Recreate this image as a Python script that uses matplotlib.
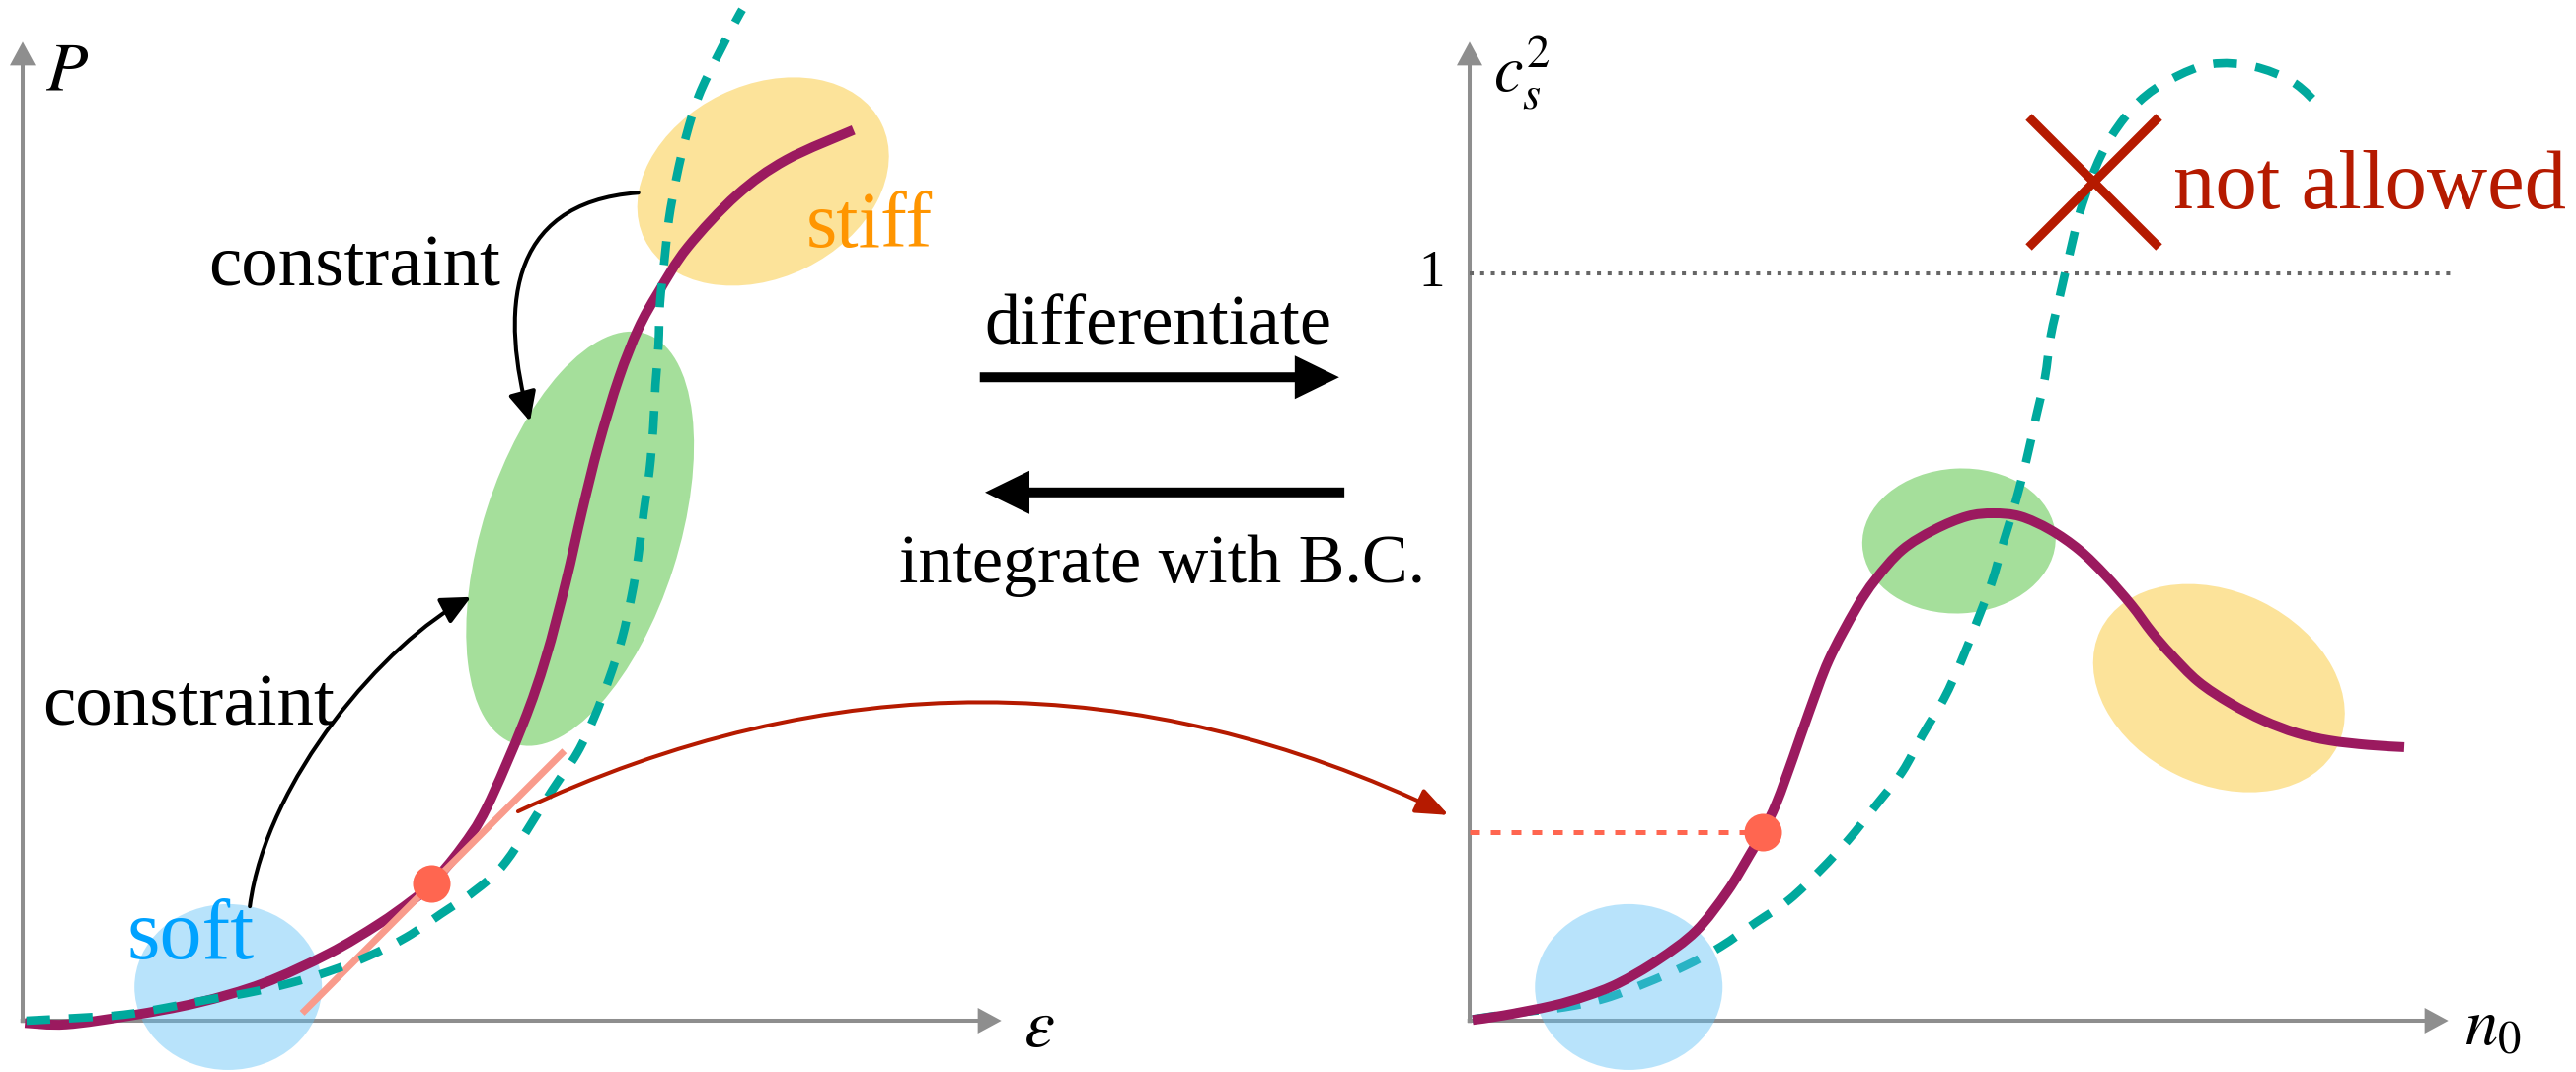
import matplotlib
matplotlib.use("Agg")
import numpy as np
import matplotlib.pyplot as plt
from matplotlib.patches import Ellipse, FancyArrowPatch, ConnectionPatch, PathPatch
from matplotlib.path import Path

plt.rcParams['font.family'] = ['Liberation Serif', 'DejaVu Serif']
plt.rcParams['mathtext.fontset'] = 'stix'

# ---------------- data (arbitrary units, c_s^2 = 1 on the right) ----------------
# left panel: equation of state P(eps)
eos_eps = [0.003, 0.058, 0.145, 0.234, 0.322, 0.410, 0.476, 0.520, 0.547, 0.587,
           0.621, 0.670, 0.700, 0.727, 0.749, 0.771, 0.798, 0.824, 0.851,
           0.890, 0.956, 1.022, 1.112]
eos_P = [-0.003, -0.005, 0.007, 0.024, 0.050, 0.090, 0.129, 0.160, 0.183, 0.231,
         0.285, 0.398, 0.485, 0.587, 0.683, 0.771, 0.860, 0.926, 0.975,
         1.035, 1.105, 1.152, 1.192]

alt_eps = [0.005, 0.078, 0.135, 0.190, 0.247, 0.300, 0.357, 0.410, 0.462, 0.514,
           0.560, 0.604, 0.647, 0.709, 0.742, 0.765, 0.785, 0.802, 0.815, 0.824,
           0.831, 0.839, 0.844, 0.847, 0.851, 0.853, 0.859, 0.865, 0.875, 0.888,
           0.905, 0.929, 0.954, 0.963]
alt_P = [0.000, 0.004, 0.008, 0.017, 0.028, 0.037, 0.050, 0.066, 0.086, 0.112,
         0.143, 0.173, 0.213, 0.309, 0.358, 0.406, 0.458, 0.511, 0.569, 0.622,
         0.679, 0.736, 0.794, 0.851, 0.904, 0.960, 1.018, 1.073, 1.128, 1.184,
         1.238, 1.289, 1.337, 1.353]

# matching point and its tangent
match_eps, match_P = 0.547, 0.183
tangent_eps = [0.374, 0.725]
tangent_P = [0.010, 0.361]

# right panel: sound speed squared c_s^2(n0)
eos_n = [0.004, 0.045, 0.111, 0.156, 0.199, 0.252, 0.303, 0.345, 0.375, 0.392,
         0.411, 0.433, 0.454, 0.481, 0.517, 0.543, 0.579, 0.622, 0.666, 0.701,
         0.737, 0.777, 0.816, 0.851, 0.886, 0.913, 0.939, 0.975, 1.018, 1.062,
         1.107, 1.151, 1.203, 1.251]
eos_cs2 = [0.001, 0.007, 0.020, 0.033, 0.050, 0.081, 0.120, 0.173, 0.222, 0.252,
           0.292, 0.352, 0.412, 0.483, 0.551, 0.590, 0.630, 0.657, 0.675, 0.679,
           0.675, 0.657, 0.630, 0.596, 0.556, 0.520, 0.490, 0.454, 0.425, 0.402,
           0.385, 0.375, 0.369, 0.366]

alt_n = [0.004, 0.067, 0.127, 0.182, 0.235, 0.288, 0.336, 0.384, 0.428, 0.470,
         0.507, 0.543, 0.579, 0.606, 0.635, 0.658, 0.679, 0.699, 0.715, 0.731,
         0.745, 0.758, 0.770, 0.778, 0.790, 0.803, 0.816, 0.836, 0.860, 0.896,
         0.939, 0.992, 1.049, 1.102, 1.141]
alt_cs2 = [0.002, 0.011, 0.018, 0.030, 0.050, 0.073, 0.099, 0.132, 0.162, 0.202,
           0.242, 0.287, 0.333, 0.382, 0.431, 0.481, 0.534, 0.587, 0.642, 0.695,
           0.749, 0.807, 0.860, 0.917, 0.970, 1.026, 1.079, 1.137, 1.185, 1.230,
           1.260, 1.280, 1.277, 1.256, 1.221]

match_n, match_cs2 = 0.392, 0.252
causal_limit = 1.0
violation_n, violation_cs2 = 0.835, 1.123

# regions: (centre x, centre y, width, height, angle)
soft_L = (0.275, 0.045, 0.251, 0.222, 0)
mid_L = (0.746, 0.645, 0.262, 0.576, -17.7)
stiff_L = (0.991, 1.123, 0.353, 0.258, 26)
soft_R = (0.213, 0.045, 0.251, 0.222, 0)
mid_R = (0.655, 0.642, 0.259, 0.194, 3)
stiff_R = (1.003, 0.445, 0.353, 0.258, -26)

# ---------------- style ----------------
PURPLE = '#9b1a5f'
TEAL = '#00a99d'
DOT = '#ff6650'
SALMON = '#f99b8c'
DARKRED = '#b51a00'
GREY = '#8e8e8e'
BLUE_FILL = (95 / 255, 193 / 255, 246 / 255, 0.44)
GREEN_FILL = '#a5df9b'
YELLOW_FILL = '#fce39a'

W, H = 2610, 1086
UNIT = 757.0
fig = plt.figure(figsize=(W / 100, H / 100), dpi=100)


def panel(x0, y0):
    ax = fig.add_axes([0, 0, 1, 1])
    ax.set_xlim(-x0 / UNIT, (W - x0) / UNIT)
    ax.set_ylim(-y0 / UNIT, (H - y0) / UNIT)
    ax.axis('off')
    ax.patch.set_alpha(0)
    return ax


def smooth_curve(ax, xs, ys, **kw):
    """Draw a smooth (Catmull-Rom style Bezier) stroke through the given points."""
    p = np.column_stack([xs, ys])
    ext = np.vstack([p[0], p, p[-1]])
    verts = [tuple(p[0])]
    codes = [Path.MOVETO]
    for i in range(len(p) - 1):
        a, b, c, d = ext[i], ext[i + 1], ext[i + 2], ext[i + 3]
        verts += [tuple(b + (c - a) / 6), tuple(c - (d - b) / 6), tuple(c)]
        codes += [Path.CURVE4] * 3
    patch = PathPatch(Path(verts, codes), fill=False, **kw)
    ax.add_patch(patch)
    return patch


axL = panel(23, 52)
axR = panel(1489, 52)

AX_END = 1.31
axis_style = 'simple,head_length=1.73,head_width=1.87,tail_width=0.29'
for ax in (axL, axR):
    for a, b in [((-0.003, 0), (AX_END, 0)), ((0, -0.003), (0, AX_END))]:
        ax.add_patch(FancyArrowPatch(a, b, arrowstyle=axis_style, mutation_scale=10,
                                     color=GREY, lw=0, shrinkA=0, shrinkB=0, zorder=1))


def region(ax, spec, color, z):
    x, y, w, h, ang = spec
    ax.add_patch(Ellipse((x, y), w, h, angle=ang, facecolor=color, edgecolor='none', zorder=z))


solid = dict(edgecolor=PURPLE, lw=7.2, joinstyle='round', capstyle='butt')
dashed = dict(edgecolor=TEAL, lw=6.2, linestyle=(0, (2.8, 2.2)), capstyle='butt')

# ----- left panel -----
region(axL, soft_L, BLUE_FILL, 2)
region(axL, mid_L, GREEN_FILL, 2)
region(axL, stiff_L, YELLOW_FILL, 2)
smooth_curve(axL, eos_eps, eos_P, zorder=3, **solid)
axL.plot(tangent_eps, tangent_P, color=SALMON, lw=5, solid_capstyle='butt', zorder=3.5)
smooth_curve(axL, alt_eps, alt_P, zorder=4, **dashed)
axL.plot([match_eps], [match_P], 'o', ms=27.4, color=DOT, mec='none', zorder=6)

axL.text(0.030, 1.247, r'$P$', fontsize=50, va='baseline', ha='left')
axL.text(1.339, -0.034, r'$\varepsilon$', fontsize=50, va='baseline', ha='left')
axL.text(0.639, 0.983, 'constraint', fontsize=54, va='baseline', ha='right')
axL.text(0.026, 0.396, 'constraint', fontsize=54, va='baseline', ha='left')
axL.text(0.139, 0.083, 'soft', fontsize=62, color='#00a2ff', va='baseline', ha='left', zorder=7)
axL.text(1.049, 1.036, 'stiff', fontsize=58, color='#ff9500', va='baseline', ha='left', zorder=7)

arrow_k = '-|>,head_length=1.8,head_width=0.86'
upper_path = Path([(0.824, 1.108), (0.643, 1.095), (0.641, 0.943), (0.679, 0.802)],
                  [Path.MOVETO, Path.CURVE4, Path.CURVE4, Path.CURVE4])
lower_path = Path([(0.304, 0.153), (0.326, 0.322), (0.485, 0.507), (0.600, 0.567)],
                  [Path.MOVETO, Path.CURVE4, Path.CURVE4, Path.CURVE4])
for p in (upper_path, lower_path):
    axL.add_patch(FancyArrowPatch(path=p, arrowstyle=arrow_k, mutation_scale=10,
                                  color='k', lw=2.9, zorder=5))

# differentiate / integrate arrows between the panels
big = 'simple,head_length=3.24,head_width=3.17,tail_width=0.72'
axL.add_patch(FancyArrowPatch((1.281, 0.861), (1.762, 0.861), arrowstyle=big,
                              mutation_scale=10, color='k', lw=0, shrinkA=0, shrinkB=0))
axL.add_patch(FancyArrowPatch((1.769, 0.707), (1.288, 0.707), arrowstyle=big,
                              mutation_scale=10, color='k', lw=0, shrinkA=0, shrinkB=0))
axL.text(1.520, 0.905, 'differentiate', fontsize=52, va='baseline', ha='center')
axL.text(1.525, 0.587, 'integrate with B.C.', fontsize=50.5, va='baseline', ha='center')

# ----- right panel -----
region(axR, soft_R, BLUE_FILL, 2.5)
region(axR, mid_R, GREEN_FILL, 1.5)
region(axR, stiff_R, YELLOW_FILL, 1.5)
axR.plot([0, 1.313], [causal_limit, causal_limit], color='#666666', lw=2.9,
         dashes=(1, 1.67), dash_capstyle='butt', zorder=1)
smooth_curve(axR, alt_n, alt_cs2, zorder=2, **dashed)
smooth_curve(axR, eos_n, eos_cs2, zorder=3, **solid)
axR.plot([0, match_n], [match_cs2, match_cs2], color=DOT, lw=3.6, dashes=(2, 2.2),
         dash_capstyle='butt', zorder=3)
axR.plot([match_n], [match_cs2], 'o', ms=27.4, color=DOT, mec='none', zorder=6)
axR.plot([violation_n], [violation_cs2], marker='x', ms=95, mew=6.5, color=DARKRED,
         ls='none', zorder=6)

axR.text(-0.034, causal_limit, '1', fontsize=38, va='center', ha='right')
axR.text(0.032, 1.243, r'$c_s^2$', fontsize=48, va='baseline', ha='left')
axR.text(1.332, -0.032, r'$n_0$', fontsize=48, va='baseline', ha='left')
axR.text(0.942, 1.087, 'not allowed', fontsize=61, color=DARKRED, va='baseline', ha='left')

# slope at the matching point becomes c_s^2
con = ConnectionPatch(xyA=(0.663, 0.280), coordsA=axL.transData,
                      xyB=(-0.028, 0.275), coordsB=axR.transData,
                      arrowstyle='-|>,head_length=2.0,head_width=0.8', mutation_scale=10,
                      connectionstyle='arc3,rad=-0.2375', color=DARKRED, lw=2.9,
                      shrinkA=0, shrinkB=0, zorder=5)
fig.add_artist(con)

fig.savefig('out.png', dpi=100, facecolor='white')
